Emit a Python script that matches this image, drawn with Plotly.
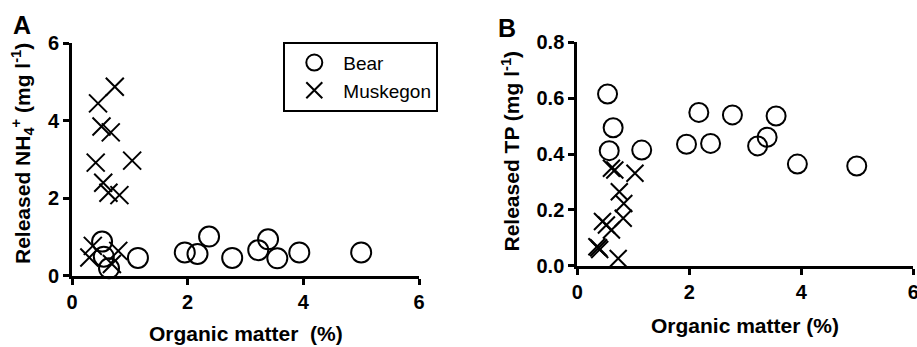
import plotly.graph_objects as go

# ---- data ----
bear_om = [0.52, 0.55, 0.64, 1.14, 1.95, 2.17, 2.37, 2.77, 3.22, 3.39, 3.55, 3.93, 5.0]
bear_nh4 = [0.88, 0.49, 0.19, 0.46, 0.60, 0.56, 1.01, 0.46, 0.66, 0.94, 0.45, 0.60, 0.60]
bear_om_b = [0.54, 0.57, 0.64, 1.15, 1.95, 2.17, 2.38, 2.77, 3.22, 3.39, 3.55, 3.93, 4.99]
bear_tp = [0.615, 0.412, 0.494, 0.414, 0.435, 0.549, 0.438, 0.540, 0.429, 0.460, 0.536, 0.364, 0.357]

musk_om_a = [0.74, 0.45, 0.51, 0.67, 0.41, 1.04, 0.54, 0.63, 0.82, 0.36, 0.30, 0.80, 0.69]
musk_nh4 = [4.88, 4.45, 3.85, 3.70, 2.92, 2.97, 2.40, 2.14, 2.08, 0.77, 0.47, 0.64, 0.30]
musk_om_b = [0.61, 0.67, 1.03, 0.75, 0.83, 0.45, 0.52, 0.82, 0.61, 0.35, 0.40, 0.38, 0.73]
musk_tp = [0.349, 0.343, 0.331, 0.265, 0.223, 0.158, 0.146, 0.170, 0.128, 0.068, 0.058, 0.064, 0.026]

x_ticks = [0, 2, 4, 6]
nh4_ticks = [0, 2, 4, 6]
tp_ticks = [0.0, 0.2, 0.4, 0.6, 0.8]

W, H = 917, 347
FONT = "Liberation Sans, Arial, sans-serif"

fig = go.Figure()

circ = dict(symbol="circle-open", color="black", line=dict(width=2, color="black"))
xm = dict(symbol="x-thin-open", color="black", line=dict(width=2, color="black"))

fig.add_trace(go.Scatter(x=bear_om, y=bear_nh4, mode="markers", name="Bear",
                         marker=dict(size=20, **circ), cliponaxis=False,
                         xaxis="x", yaxis="y", showlegend=True))
fig.add_trace(go.Scatter(x=musk_om_a, y=musk_nh4, mode="markers", name="Muskegon",
                         marker=dict(size=18, **xm), cliponaxis=False,
                         xaxis="x", yaxis="y", showlegend=True))
fig.add_trace(go.Scatter(x=bear_om_b, y=bear_tp, mode="markers", name="Bear",
                         marker=dict(size=19, **circ), cliponaxis=False,
                         xaxis="x2", yaxis="y2", showlegend=False))
fig.add_trace(go.Scatter(x=musk_om_b, y=musk_tp, mode="markers", name="Muskegon",
                         marker=dict(size=17, **xm), cliponaxis=False,
                         xaxis="x2", yaxis="y2", showlegend=False))

tickfont = dict(family=FONT, size=20, color="black", weight="bold")
axcommon = dict(showgrid=False, zeroline=False, showline=True, linecolor="black",
                linewidth=3, ticks="outside", ticklen=6, tickwidth=3, tickcolor="black",
                tickfont=tickfont, fixedrange=True, automargin=False,
                ticklabeloverflow="allow")


def bold(vals, fmt):
    return ["<b>" + format(v, fmt) + "</b>" for v in vals]


fig.update_layout(
    width=W, height=H,
    margin=dict(l=0, r=0, t=0, b=0, autoexpand=False),
    paper_bgcolor="white", plot_bgcolor="white",
    font=dict(family=FONT, color="black"),
    xaxis=dict(domain=[72 / W, 419 / W], range=[0, 6], tickvals=x_ticks,
               ticktext=bold(x_ticks, "g"), anchor="y", **axcommon),
    yaxis=dict(domain=[1 - 275.7 / H, 1 - 43.3 / H], range=[0, 6], tickvals=nh4_ticks,
               ticktext=bold(nh4_ticks, "g"), anchor="x", **axcommon),
    xaxis2=dict(domain=[577.3 / W, 913.3 / W], range=[0, 6], tickvals=x_ticks,
                ticktext=bold(x_ticks, "g"), anchor="y2", **axcommon),
    yaxis2=dict(domain=[1 - 265.7 / H, 1 - 42.3 / H], range=[0, 0.8], tickvals=tp_ticks,
                ticktext=bold(tp_ticks, ".1f"), anchor="x2", **axcommon),
    legend=dict(x=283.3 / W, y=1 - 41.7 / H, xanchor="left", yanchor="top",
                bordercolor="black", borderwidth=2, bgcolor="white",
                font=dict(family=FONT, size=19, color="black"),
                itemwidth=48, tracegroupgap=0),
)

title_font = dict(family=FONT, size=21, color="black", weight="bold")
ann = [
    dict(text="Organic matter  (%)", x=245.5 / W, y=1 - 333 / H, xref="paper", yref="paper",
         showarrow=False, font=title_font, xanchor="center", yanchor="middle"),
    dict(text="Organic matter (%)", x=745 / W, y=1 - 325 / H, xref="paper", yref="paper",
         showarrow=False, font=title_font, xanchor="center", yanchor="middle"),
    dict(text="Released NH<sub>4</sub><sup>+</sup> (mg l<sup>-1</sup>)", x=22 / W, y=1 - 154 / H,
         xref="paper", yref="paper", showarrow=False, textangle=-90, font=title_font,
         xanchor="center", yanchor="middle"),
    dict(text="Released TP (mg l<sup>-1</sup>)", x=510 / W, y=1 - 151.5 / H,
         xref="paper", yref="paper", showarrow=False, textangle=-90, font=title_font,
         xanchor="center", yanchor="middle"),
    dict(text="A", x=21.5 / W, y=1 - 25.5 / H, xref="paper", yref="paper", showarrow=False,
         font=dict(family=FONT, size=25, color="black", weight="bold"),
         xanchor="center", yanchor="middle"),
    dict(text="B", x=506.7 / W, y=1 - 28 / H, xref="paper", yref="paper", showarrow=False,
         font=dict(family=FONT, size=25, color="black", weight="bold"),
         xanchor="center", yanchor="middle"),
]
fig.update_layout(annotations=ann)

fig.write_html("out.html", config={"displayModeBar": False},
               post_script="document.body.style.margin='0';document.body.style.overflow='hidden';")
